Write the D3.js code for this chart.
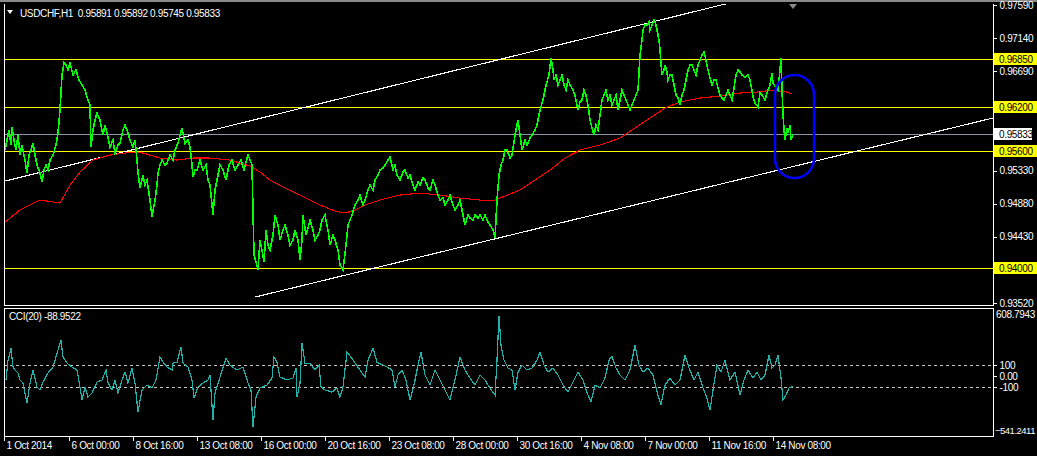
<!DOCTYPE html>
<html><head><meta charset="utf-8">
<script src="https://cdn.jsdelivr.net/npm/d3@7"></script>
<style>
html,body{margin:0;padding:0;background:#000;overflow:hidden}
svg{display:block}
text{font-family:"Liberation Sans",Arial,sans-serif;font-size:10px;letter-spacing:-0.35px}
</style>
</head><body>
<svg id="c" width="1037" height="456"></svg>
<script>
// ---------- DATA ----------
const titleText = "USDCHF,H1  0.95891 0.95892 0.95745 0.95833";
const cciTitle = "CCI(20) -88.9522";

// bar index (hourly bars from first visible bar) and close price
const barIdx = [1,3,5,7,8,10,12,14,16,18,21,23,25,27,29,31,33,36,38,40,42,44,46,49,52,54,56,58,60,62,64,66,69,72,75,78,81,84,86,87,89,91,93,96,99,101,103,106,109,111,114,116,119,121,124,126,129,131,133,134,136,139,141,143,146,148,151,153,154,156,158,161,163,166,169,171,174,176,178,181,184,186,188,189,191,193,196,199,202,204,206,209,211,214,216,219,222,225,228,231,234,237,240,242,244,246,248,250,252,254,256,258,260,262,264,266,269,271,274,276,279,281,284,286,289,291,294,296,298,299,302,304,306,309,311,314,316,318,321,324,326,329,331,334,336,339,342,344,346,348,351,354,356,359,361,364,366,369,371,374,376,379,381,384,386,389,391,393,396,399,401,404,406,409,411,414,416,419,421,424,426,429,431,434,436,439,441,444,446,449,451,454,456,459,461,464,466,469,471,474,476,479,481,484,486,489,491,493,495,497,499,501,503,506,508,511,514,516,518,521,523,526,528,531,533,536,539,542,545,547,549,550,552,554,556,558,560,562,564,566,569,571,574,576,578,580,582,584,586,588,590,592,594,596,598,600,602,604,606,608,610,612,614,616,618,620,622,624,626,628,630,632,634,636,638,639,641,643,645,646,648,650,652,653,655,656,658,660,661,663,664,666,668,670,672,674,676,678,680,682,684,686,688,690,692,694,696,698,700,702,704,706,708,710,712,714,716,718,720,722,724,726,728,730,732,734,736,738,741,744,746,748,749,751,754,756,758,761,763,766,768,769,772,774,776,777,778,779,780,781,783,784,786,787,788,789];
const closePrice = [0.95612,0.95748,0.95885,0.95680,0.95926,0.95748,0.95612,0.95817,0.95544,0.95680,0.95476,0.95298,0.95544,0.95612,0.95707,0.95544,0.95408,0.95298,0.95176,0.95339,0.95408,0.95339,0.95476,0.95544,0.95680,0.95844,0.96158,0.96635,0.96799,0.96772,0.96703,0.96799,0.96635,0.96703,0.96567,0.96499,0.96430,0.96294,0.96226,0.95653,0.95885,0.96021,0.96117,0.96021,0.95817,0.95953,0.95844,0.95653,0.95748,0.95571,0.95680,0.95707,0.95885,0.95953,0.95844,0.95748,0.95653,0.95748,0.95476,0.95298,0.95094,0.95271,0.95135,0.95203,0.94930,0.94699,0.94930,0.95135,0.95298,0.95408,0.95476,0.95408,0.95435,0.95544,0.95476,0.95612,0.95707,0.95817,0.95912,0.95707,0.95748,0.95653,0.95408,0.95244,0.95339,0.95339,0.95476,0.95339,0.95408,0.95203,0.95135,0.94726,0.95066,0.95271,0.95408,0.95339,0.95203,0.95408,0.95476,0.95339,0.95408,0.95476,0.95339,0.95449,0.95544,0.95476,0.95408,0.94180,0.94085,0.93975,0.94384,0.94248,0.94085,0.94521,0.94316,0.94248,0.94453,0.94726,0.94589,0.94384,0.94521,0.94589,0.94453,0.94316,0.94384,0.94521,0.94384,0.94112,0.94384,0.94726,0.94453,0.94548,0.94657,0.94521,0.94384,0.94453,0.94521,0.94657,0.94726,0.94521,0.94316,0.94453,0.94384,0.94248,0.94044,0.93975,0.94316,0.94589,0.94657,0.94726,0.94862,0.94930,0.94998,0.94862,0.94930,0.95066,0.95135,0.95066,0.95203,0.95271,0.95339,0.95366,0.95408,0.95476,0.95517,0.95339,0.95408,0.95271,0.95203,0.95312,0.95339,0.95230,0.95271,0.95135,0.95066,0.95176,0.95135,0.95230,0.95203,0.95094,0.95066,0.95203,0.95135,0.94998,0.94930,0.94957,0.94862,0.94930,0.94998,0.94862,0.94794,0.94862,0.94930,0.94726,0.94589,0.94726,0.94684,0.94657,0.94726,0.94684,0.94726,0.94657,0.94726,0.94630,0.94589,0.94521,0.94411,0.94930,0.95271,0.95408,0.95476,0.95612,0.95612,0.95503,0.95544,0.95817,0.96021,0.95817,0.95612,0.95748,0.95680,0.95775,0.95817,0.95885,0.95953,0.96158,0.96294,0.96499,0.96635,0.96867,0.96703,0.96567,0.96635,0.96499,0.96567,0.96635,0.96499,0.96430,0.96567,0.96499,0.96430,0.96362,0.96158,0.96267,0.96294,0.96430,0.96362,0.96226,0.96021,0.95912,0.95817,0.95953,0.95885,0.96090,0.96294,0.96362,0.96430,0.96294,0.96362,0.96226,0.96294,0.96362,0.96158,0.96294,0.96430,0.96362,0.96294,0.96226,0.96158,0.96226,0.96294,0.96362,0.96430,0.96908,0.97112,0.97249,0.97317,0.97317,0.97358,0.97249,0.97317,0.97385,0.97317,0.97249,0.97112,0.96976,0.96635,0.96703,0.96772,0.96676,0.96567,0.96635,0.96635,0.96499,0.96362,0.96321,0.96226,0.96362,0.96430,0.96567,0.96703,0.96772,0.96772,0.96703,0.96635,0.96772,0.96840,0.96908,0.96949,0.96840,0.96703,0.96594,0.96499,0.96567,0.96567,0.96458,0.96362,0.96321,0.96294,0.96362,0.96430,0.96362,0.96294,0.96458,0.96635,0.96703,0.96676,0.96635,0.96608,0.96635,0.96567,0.96430,0.96335,0.96253,0.96198,0.96390,0.96362,0.96294,0.96390,0.96499,0.96662,0.96526,0.96458,0.96430,0.96703,0.96867,0.96430,0.96117,0.95885,0.95748,0.95912,0.95844,0.95953,0.95748,0.95789,0.95833];

// moving average (red)
const maIdx = [1,16,36,56,66,76,89,106,129,139,156,173,189,206,226,246,256,266,281,296,316,331,341,351,361,376,396,416,436,456,476,491,501,516,531,546,561,576,596,616,631,646,661,676,696,716,736,753,769,783,788];
const maValue = [0.94630,0.94794,0.94930,0.94889,0.95135,0.95312,0.95476,0.95544,0.95585,0.95571,0.95503,0.95476,0.95503,0.95503,0.95476,0.95394,0.95312,0.95203,0.95094,0.94998,0.94862,0.94780,0.94753,0.94794,0.94862,0.94930,0.94998,0.95025,0.94998,0.94957,0.94930,0.94930,0.94984,0.95066,0.95203,0.95339,0.95503,0.95612,0.95680,0.95775,0.95912,0.96048,0.96185,0.96267,0.96321,0.96348,0.96390,0.96403,0.96430,0.96403,0.96376];

// CCI(20)
const cciIdx = [2,4,7,9,11,14,16,19,23,26,29,33,36,39,44,49,54,57,59,63,68,73,76,78,81,84,88,93,98,102,104,108,111,114,118,121,124,128,131,134,138,143,148,152,156,159,163,168,169,173,177,179,184,188,190,194,199,204,206,209,211,216,222,226,233,239,244,247,249,252,256,263,268,270,273,276,283,289,292,293,296,298,301,306,311,315,317,321,328,333,336,339,343,349,356,361,364,369,373,383,388,391,394,398,402,406,410,414,417,421,426,431,436,441,446,451,456,461,466,471,476,481,486,491,493,495,497,500,504,508,511,514,518,523,528,533,536,540,544,549,554,559,564,569,574,579,584,587,591,596,601,605,608,612,616,621,626,631,635,639,644,649,654,657,661,666,671,676,681,685,690,694,699,703,706,709,713,717,721,726,731,736,740,744,749,753,757,761,765,768,771,774,777,779,782,785,789];
const cciValue = [-34,145,253,83,56,29,-34,-61,-240,-61,56,-97,-124,-52,29,83,235,325,172,118,83,56,-97,-213,-97,-187,-151,-52,-34,56,-61,-124,-34,-151,-34,38,-61,74,-61,-321,-124,-79,-106,-34,172,127,83,56,118,127,262,118,83,-34,-196,-97,-61,-34,11,-393,-151,-7,163,100,56,83,-61,-124,-456,-187,-106,-79,-16,172,127,-7,-34,-16,74,-187,-61,298,118,118,56,100,-97,-124,-142,-106,-187,-97,217,145,56,-7,145,253,127,83,56,-97,11,56,-34,-213,-79,100,217,11,-79,56,-34,-124,-213,-34,172,56,-16,-79,11,-34,-106,-169,145,540,280,145,74,56,-124,38,100,56,74,145,217,100,38,74,11,-79,-142,-52,38,-34,-169,-231,-79,-106,-16,145,181,74,11,-34,56,280,100,38,74,11,-169,-258,-79,-16,-79,-34,190,74,-34,38,-106,-196,-303,-124,100,38,145,-34,38,-169,-34,56,-16,38,-34,11,190,74,100,190,-16,-213,-169,-106,-89];

// horizontal levels, bid, trend channel, highlight
const levels = [0.9685, 0.9620, 0.9560, 0.9400];
const bidPrice = 0.95833;
const upperChannel = [[1, 0.95189], [721, 0.97603]];
const lowerChannel = [[251, 0.93607], [989, 0.96049]];
const highlightBars = [771, 810];
const highlightPrices = [0.96635, 0.95230];

// axes
const priceDomain = [0.93485, 0.97604];
const priceTicks = [0.9759, 0.9714, 0.9669, 0.9533, 0.9488, 0.9443, 0.9352];
const cciDomain = [-541.2411, 608.7943];
const cciTicks = [100, 0, -100];
const cciTickLabels = ["100", "0.00", "-100"];
const timeTickIdx = [0, 65, 129, 193, 257, 321, 385, 449, 513, 577, 641, 705, 769];
const timeTickLabels = ["1 Oct 2014", "6 Oct 00:00", "8 Oct 16:00", "13 Oct 08:00", "16 Oct 00:00", "20 Oct 16:00", "23 Oct 08:00", "28 Oct 00:00", "30 Oct 16:00", "4 Nov 08:00", "7 Nov 00:00", "11 Nov 16:00", "14 Nov 08:00"];

// ---------- DRAW ----------
const svg = d3.select("#c");
const L = 4, R = 993;
const mainTop = 4, mainBot = 305.5, cciTop = 308.5, cciBot = 436.5;

const x = d3.scaleLinear().domain([0, 989]).range([L, R]);
const y = d3.scaleLinear().domain(priceDomain).range([mainBot + 0.5, mainTop]);
const yc = d3.scaleLinear().domain(cciDomain).range([cciBot, cciTop]);

svg.append("rect").attr("width", 1037).attr("height", 456).attr("fill", "#000");
svg.append("rect").attr("x", 0).attr("y", 0).attr("width", 1037).attr("height", 2).attr("fill", "#8a8a8a");

svg.append("clipPath").attr("id", "cm").append("rect")
  .attr("x", L).attr("y", mainTop).attr("width", R - L).attr("height", mainBot - mainTop);
svg.append("clipPath").attr("id", "cc").append("rect")
  .attr("x", L).attr("y", cciTop).attr("width", R - L).attr("height", cciBot - cciTop);

const gm = svg.append("g").attr("clip-path", "url(#cm)");

gm.selectAll("line.lvl").data(levels).enter().append("line")
  .attr("x1", L).attr("x2", R)
  .attr("y1", d => Math.round(y(d)) + 0.5).attr("y2", d => Math.round(y(d)) + 0.5)
  .attr("stroke", "#ffff00").attr("stroke-width", 1).attr("shape-rendering", "crispEdges");

gm.append("line").attr("x1", L).attr("x2", R)
  .attr("y1", Math.round(y(bidPrice)) + 0.5).attr("y2", Math.round(y(bidPrice)) + 0.5)
  .attr("stroke", "#8c96a8").attr("shape-rendering", "crispEdges");

function ray(pts) {
  const [a, b] = pts;
  const slope = (b[1] - a[1]) / (b[0] - a[0]);
  const endIdx = 1100;
  return [[a[0], a[1]], [endIdx, a[1] + slope * (endIdx - a[0])]];
}
[upperChannel, lowerChannel].forEach(c => {
  const r = ray(c);
  gm.append("line")
    .attr("x1", x(r[0][0])).attr("y1", y(r[0][1]))
    .attr("x2", x(r[1][0])).attr("y2", y(r[1][1]))
    .attr("stroke", "#ffffff").attr("stroke-width", 1.1).attr("shape-rendering", "crispEdges");
});

const maData = maIdx.map((d, i) => [d, maValue[i]]);
gm.append("path").datum(maData)
  .attr("d", d3.line().x(d => x(d[0])).y(d => y(d[1])))
  .attr("fill", "none").attr("stroke", "#ff0000").attr("stroke-width", 1.1)
  .attr("shape-rendering", "crispEdges");

const pData = barIdx.map((d, i) => [d, closePrice[i]]);
gm.append("path").datum(pData)
  .attr("d", d3.line().x(d => x(d[0])).y(d => y(d[1])))
  .attr("fill", "none").attr("stroke", "#00ff00").attr("stroke-width", 1.6)
  .attr("shape-rendering", "crispEdges");

const hx0 = x(highlightBars[0]), hx1 = x(highlightBars[1]);
const hy0 = y(highlightPrices[0]), hy1 = y(highlightPrices[1]);
gm.append("rect")
  .attr("x", hx0).attr("y", hy0).attr("width", hx1 - hx0).attr("height", hy1 - hy0)
  .attr("rx", (hx1 - hx0) / 2).attr("ry", (hx1 - hx0) / 2)
  .attr("fill", "none").attr("stroke", "#0000ff").attr("stroke-width", 2.5);

const lastX = x(barIdx[barIdx.length - 1]);
svg.append("path")
  .attr("d", `M${lastX - 4},${mainTop}L${lastX + 4},${mainTop}L${lastX},${mainTop + 5}Z`)
  .attr("fill", "#8a8a8a");

const gc = svg.append("g").attr("clip-path", "url(#cc)");
[100, -100].forEach(v => {
  gc.append("line").attr("x1", L).attr("x2", R)
    .attr("y1", Math.round(yc(v)) + 0.5).attr("y2", Math.round(yc(v)) + 0.5)
    .attr("stroke", "#c8c8c8").attr("stroke-dasharray", "3,3").attr("shape-rendering", "crispEdges");
});
const cData = cciIdx.map((d, i) => [d, cciValue[i]]);
gc.append("path").datum(cData)
  .attr("d", d3.line().x(d => x(d[0])).y(d => yc(d[1])))
  .attr("fill", "none").attr("stroke", "#20b2aa").attr("stroke-width", 1.2)
  .attr("shape-rendering", "crispEdges");

const frame = svg.append("g").attr("stroke", "#ffffff").attr("fill", "none").attr("shape-rendering", "crispEdges");
frame.append("path").attr("d", `M${L + 0.5},${mainTop}V${mainBot}H${R + 0.5}V${mainTop}`);
frame.append("path").attr("d", `M${L + 0.5},${cciTop}H${R + 0.5}V${cciBot}H${L + 0.5}Z`);

const pa = svg.append("g").attr("transform", `translate(${R + 0.5},0)`)
  .call(d3.axisRight(y).tickValues(priceTicks).tickSize(3).tickPadding(3).tickFormat(d3.format(".5f")));
pa.select(".domain").remove();
pa.selectAll("line").attr("stroke", "#fff").attr("shape-rendering", "crispEdges");
pa.selectAll("text").attr("fill", "#fff").style("font-size", "10px").attr("font-family", null);

const tags = svg.append("g");
levels.forEach(v => {
  const cy = Math.round(y(v));
  tags.append("rect").attr("x", R + 1).attr("y", cy - 6).attr("width", 1037 - R - 1).attr("height", 12).attr("fill", "#ffff00");
  tags.append("text").attr("x", R + 6).attr("y", cy + 3.5).attr("fill", "#000").text(d3.format(".5f")(v));
});
{
  const cy = Math.round(y(bidPrice));
  tags.append("rect").attr("x", R + 1).attr("y", cy - 6).attr("width", 38).attr("height", 12).attr("fill", "#ffffff");
  tags.append("text").attr("x", R + 6).attr("y", cy + 3.5).attr("fill", "#000").text(d3.format(".5f")(bidPrice));
}

const ca = svg.append("g").attr("transform", `translate(${R + 0.5},0)`)
  .call(d3.axisRight(yc).tickValues(cciTicks).tickSize(3).tickPadding(3).tickFormat((d, i) => cciTickLabels[i]));
ca.select(".domain").remove();
ca.selectAll("line").attr("stroke", "#fff").attr("shape-rendering", "crispEdges");
ca.selectAll("text").attr("fill", "#fff").style("font-size", "10px").attr("font-family", null);
svg.append("text").attr("x", R + 3).attr("y", yc(cciDomain[1]) + 9).attr("fill", "#fff").text(d3.format(".4f")(cciDomain[1]));
svg.append("text").attr("x", R + 2).attr("y", yc(cciDomain[0]) - 3).attr("fill", "#fff")
  .style("font-size", "9.5px").style("letter-spacing", "-0.5px").text(d3.format(".4f")(cciDomain[0]));

const ta = svg.append("g").attr("transform", `translate(0,${cciBot})`)
  .call(d3.axisBottom(x).tickValues(timeTickIdx).tickSize(4).tickFormat((d, i) => timeTickLabels[i]));
ta.select(".domain").remove();
ta.selectAll("line").attr("stroke", "#fff").attr("shape-rendering", "crispEdges");
ta.selectAll("text").attr("fill", "#fff").style("font-size", "10px").attr("font-family", null)
  .attr("text-anchor", "start").attr("x", 2).attr("y", 5).attr("dy", "0.71em");

svg.append("path").attr("d", "M7,10L13,10L10,14Z").attr("fill", "#fff");
svg.append("text").attr("x", 20).attr("y", 17).attr("fill", "#fff").style("white-space", "pre").text(titleText);
svg.append("text").attr("x", 9).attr("y", 320).attr("fill", "#fff").text(cciTitle);
</script>
</body></html>
